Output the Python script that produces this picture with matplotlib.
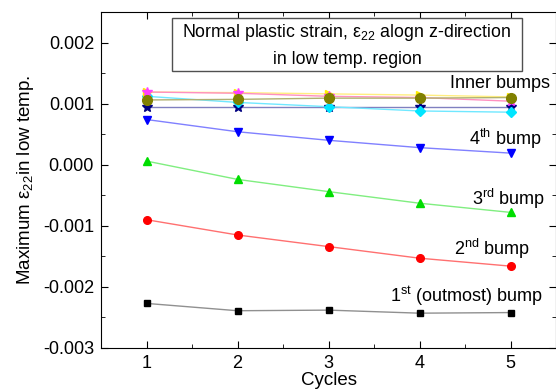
import matplotlib
matplotlib.use("Agg")
import matplotlib.pyplot as plt
from matplotlib.ticker import MultipleLocator

plt.rcParams['font.family'] = ['Liberation Sans', 'DejaVu Sans']
plt.rcParams['mathtext.fontset'] = 'custom'
plt.rcParams['mathtext.rm'] = 'Liberation Sans'
plt.rcParams['mathtext.it'] = 'Liberation Sans'

cycles = [1, 2, 3, 4, 5]
bump1 = [-0.00227, -0.00239, -0.00238, -0.00243, -0.00242]
bump2 = [-0.00090, -0.00115, -0.00134, -0.00153, -0.00166]
bump3 = [0.00006, -0.00024, -0.00044, -0.00063, -0.00078]
bump4 = [0.00074, 0.00054, 0.00040, 0.00028, 0.00019]
inner_navy = [0.00095, 0.00095, 0.00095, 0.00095, 0.00095]
inner_cyan = [0.00112, 0.00102, 0.00095, 0.00088, 0.00086]
inner_olive = [0.00106, 0.00107, 0.00109, 0.00109, 0.00110]
inner_magenta = [0.00119, 0.00117, 0.00112, 0.00110, 0.00104]
inner_yellow = [0.00119, 0.00118, 0.00116, 0.00114, 0.00111]

series = [
    (bump1, 's', '#000000', '#909090', 5),
    (bump2, 'o', '#ff0000', '#ff7070', 5.5),
    (bump3, '^', '#00dd00', '#80ee80', 6),
    (bump4, 'v', '#0000ff', '#8080ff', 6),
    (inner_navy, '*', '#000080', '#8080c0', 7),
    (inner_cyan, 'D', '#00e5ff', '#70e8ff', 5),
    (inner_yellow, '>', '#ffee00', '#ffee80', 6),
    (inner_magenta, '*', '#ff40ff', '#ff90c0', 7),
    (inner_olive, 'o', '#808000', '#b0b070', 7),
]

fig = plt.figure(figsize=(5.56, 3.92), dpi=100)
ax = fig.add_axes([101/556, 44/392, 455/556, 336/392])

for ys, mk, mc, lc, ms in series:
    ax.plot(cycles, ys, color=lc, lw=1.0, zorder=2)
    ax.plot(cycles, ys, linestyle='none', marker=mk, ms=ms,
            markerfacecolor=mc, markeredgecolor=mc, zorder=3)

ax.set_xlim(0.5, 5.5)
ax.set_ylim(-0.003, 0.0025)
ax.xaxis.set_major_locator(MultipleLocator(1))
ax.xaxis.set_minor_locator(MultipleLocator(0.5))
ax.yaxis.set_minor_locator(MultipleLocator(0.0005))
ax.set_yticks([-0.003, -0.002, -0.001, 0.0, 0.001, 0.002])
ax.set_yticklabels(['-0.003', '-0.002', '-0.001', '0.000', '0.001', '0.002'])
ax.tick_params(which='both', direction='in', top=True, right=True, labelsize=13)
ax.tick_params(which='major', length=5, pad=5)
ax.tick_params(which='minor', length=3)

ax.set_xlabel('Cycles', fontsize=13.5, labelpad=0)
ax.set_ylabel(r'Maximum $\mathregular{\varepsilon_{22}}$in low temp.', fontsize=13.5, labelpad=5)

fs = 13
ax.text(5.434, 0.00133, 'Inner bumps', ha='right', va='center', fontsize=fs)
ax.text(5.346, 0.00043, r'4$\mathregular{^{th}}$ bump', ha='right', va='center', fontsize=fs)
ax.text(5.38, -0.00056, r'3$\mathregular{^{rd}}$ bump', ha='right', va='center', fontsize=fs)
ax.text(5.21, -0.00138, r'2$\mathregular{^{nd}}$ bump', ha='right', va='center', fontsize=fs)
ax.text(5.357, -0.00216, r'1$\mathregular{^{st}}$ (outmost) bump', ha='right', va='center', fontsize=fs)

bx0 = (172 - 101) / 91 + 0.5
bx1 = (522 - 101) / 91 + 0.5
by_top = (164 - 17) / 61 * 0.001
by_bot = (164 - 70) / 61 * 0.001
ax.add_patch(plt.Rectangle((bx0, by_bot), bx1 - bx0, by_top - by_bot,
                           facecolor='white', edgecolor='#505050', lw=1.0, zorder=5))
xm = (bx0 + bx1) / 2
ax.text(xm, (164 - 32) / 61 * 0.001,
        r'Normal plastic strain, $\mathregular{\varepsilon_{22}}$ alogn z-direction',
        ha='center', va='center', fontsize=12.8, zorder=6)
ax.text(xm, (164 - 59) / 61 * 0.001, 'in low temp. region',
        ha='center', va='center', fontsize=12.8, zorder=6)

fig.savefig('out.png', dpi=100)
